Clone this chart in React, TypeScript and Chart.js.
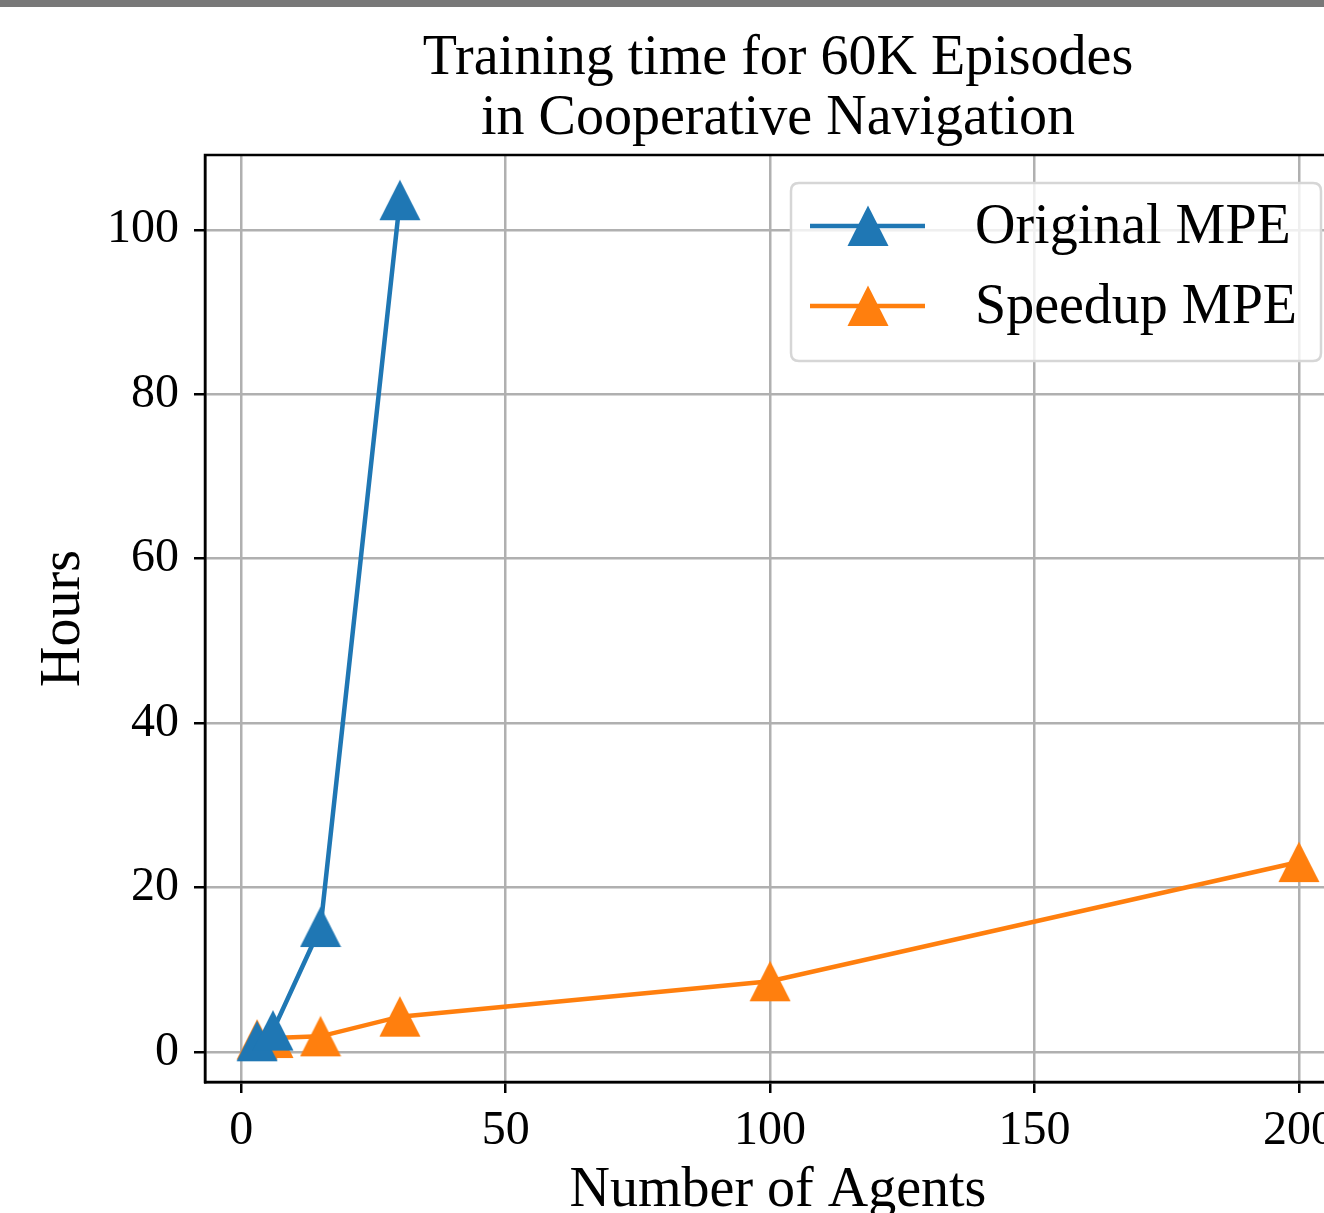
import React, { useEffect, useRef } from "react";
import { Chart, registerables } from "chart.js";

Chart.register(...registerables);

const originalX = [3, 6, 15, 30];
const originalY = [1.3, 2.6, 15.2, 103.6];
const speedupX = [3, 6, 15, 30, 100, 200];
const speedupY = [1.5, 1.7, 1.9, 4.3, 8.6, 23.1];
const xTicks = [0, 50, 100, 150, 200];
const yTicks = [0, 20, 40, 60, 80, 100];
const seriesNames = ["Original MPE", "Speedup MPE"];
const titleLines = ["Training time for 60K Episodes", "in Cooperative Navigation"];
const xTitle = "Number of Agents";
const yTitle = "Hours";

const BLUE = "#1f77b4";
const ORANGE = "#ff7f0e";
const SERIF = "'Liberation Serif', 'DejaVu Serif', serif";

function makeTriangle(color: string): HTMLCanvasElement {
  const c = document.createElement("canvas");
  c.width = 42;
  c.height = 42;
  const ctx = c.getContext("2d")!;
  ctx.fillStyle = color;
  ctx.beginPath();
  ctx.moveTo(21, 0.5);
  ctx.lineTo(41.5, 41);
  ctx.lineTo(0.5, 41);
  ctx.closePath();
  ctx.fill();
  return c;
}

export default function App() {
  const ref = useRef<HTMLCanvasElement | null>(null);

  useEffect(() => {
    const canvas = ref.current!;
    const blueTri = makeTriangle(BLUE);
    const orangeTri = makeTriangle(ORANGE);

    const framePlugin = {
      id: "frame",
      afterDraw(chart: any) {
        const { ctx, chartArea } = chart;
        const { left, top, right, bottom } = chartArea;
        ctx.save();
        ctx.strokeStyle = "#000";
        ctx.lineWidth = 2.5;
        ctx.strokeRect(left, top, right - left, bottom - top);

        // legend
        const lx = 791, ly = 183, lw = 530, lh = 178, r = 8;
        ctx.beginPath();
        ctx.moveTo(lx + r, ly);
        ctx.lineTo(lx + lw - r, ly);
        ctx.quadraticCurveTo(lx + lw, ly, lx + lw, ly + r);
        ctx.lineTo(lx + lw, ly + lh - r);
        ctx.quadraticCurveTo(lx + lw, ly + lh, lx + lw - r, ly + lh);
        ctx.lineTo(lx + r, ly + lh);
        ctx.quadraticCurveTo(lx, ly + lh, lx, ly + lh - r);
        ctx.lineTo(lx, ly + r);
        ctx.quadraticCurveTo(lx, ly, lx + r, ly);
        ctx.closePath();
        ctx.fillStyle = "rgba(255,255,255,0.8)";
        ctx.fill();
        ctx.strokeStyle = "#d6d6d6";
        ctx.lineWidth = 2.5;
        ctx.stroke();

        const rows = [
          { y: 226, color: BLUE, img: blueTri, label: seriesNames[0] },
          { y: 306, color: ORANGE, img: orangeTri, label: seriesNames[1] },
        ];
        ctx.font = `56px ${SERIF}`;
        ctx.textBaseline = "middle";
        ctx.textAlign = "left";
        for (const row of rows) {
          ctx.strokeStyle = row.color;
          ctx.lineWidth = 4.5;
          ctx.beginPath();
          ctx.moveTo(810, row.y);
          ctx.lineTo(925, row.y);
          ctx.stroke();
          ctx.drawImage(row.img, 868 - 21, row.y - 21);
          ctx.fillStyle = "#000";
          ctx.fillText(row.label, 975, row.y + 2);
        }
        ctx.restore();
      },
    };

    const chart = new Chart(canvas, {
      type: "line",
      data: {
        datasets: [
          {
            label: seriesNames[0],
            data: originalX.map((x, i) => ({ x, y: originalY[i] })),
            borderColor: BLUE,
            backgroundColor: BLUE,
            borderWidth: 4.5,
            pointStyle: blueTri as any,
            pointRadius: 21,
            tension: 0,
          },
          {
            label: seriesNames[1],
            data: speedupX.map((x, i) => ({ x, y: speedupY[i] })),
            borderColor: ORANGE,
            backgroundColor: ORANGE,
            borderWidth: 4.5,
            pointStyle: orangeTri as any,
            pointRadius: 21,
            tension: 0,
          },
        ],
      },
      options: {
        animation: false,
        responsive: false,
        maintainAspectRatio: false,
        layout: { autoPadding: false, padding: { left: 0, right: 9, top: 0, bottom: 0 } },
        plugins: {
          legend: { display: false },
          tooltip: { enabled: false },
          title: {
            display: true,
            text: titleLines,
            color: "#000",
            fullSize: false,
            font: { family: SERIF, size: 56, weight: "normal", lineHeight: 60 / 56 },
            padding: { top: 29, bottom: 6 },
          },
        },
        scales: {
          x: {
            type: "linear",
            min: -6.85,
            max: 209.85,
            afterFit(scale: any) {
              scale.height = 131;
              scale.paddingLeft = 0;
              scale.paddingRight = 0;
            },
            afterBuildTicks(scale: any) {
              scale.ticks = xTicks.map((v) => ({ value: v }));
            },
            grid: {
              color: "#b0b0b0",
              lineWidth: 2.5,
              tickColor: "#000",
              tickLength: 11,
              tickWidth: 2.5,
            },
            border: { display: true, color: "#000", width: 2.5 },
            ticks: {
              color: "#000",
              padding: 10,
              maxRotation: 0,
              autoSkip: false,
              font: { family: SERIF, size: 48 },
            },
            title: {
              display: true,
              text: xTitle,
              color: "#000",
              font: { family: SERIF, size: 56, lineHeight: 1 },
              padding: { top: 0, bottom: -6 },
            },
          },
          y: {
            type: "linear",
            min: -3.65,
            max: 109.1,
            afterFit(scale: any) {
              scale.width = 205;
              scale.paddingTop = 0;
              scale.paddingBottom = 0;
            },
            afterBuildTicks(scale: any) {
              scale.ticks = yTicks.map((v) => ({ value: v }));
            },
            grid: {
              color: "#b0b0b0",
              lineWidth: 2.5,
              tickColor: "#000",
              tickLength: 11,
              tickWidth: 2.5,
            },
            border: { display: true, color: "#000", width: 2.5 },
            ticks: {
              color: "#000",
              padding: 15,
              autoSkip: false,
              font: { family: SERIF, size: 48 },
            },
            title: {
              display: true,
              text: yTitle,
              color: "#000",
              font: { family: SERIF, size: 56, lineHeight: 1 },
              padding: { top: 36, bottom: 0 },
            },
          },
        },
      },
      plugins: [framePlugin],
    });
    return () => chart.destroy();
  }, []);

  return (
    <div
      style={{
        position: "absolute",
        left: 0,
        top: 0,
        width: 1324,
        height: 1213,
        overflow: "hidden",
        background: "#fff",
      }}
    >
      <canvas ref={ref} width={1360} height={1213} style={{ display: "block" }} />
      <div
        style={{
          position: "absolute",
          left: 0,
          top: 0,
          width: 1324,
          height: 7,
          background: "#787878",
        }}
      />
    </div>
  );
}
